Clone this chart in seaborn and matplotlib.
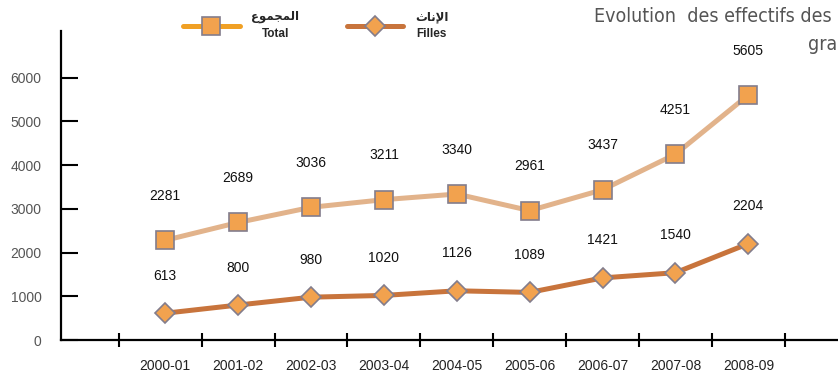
import matplotlib
matplotlib.use('Agg')
import matplotlib.pyplot as plt
import seaborn as sns
import pandas as pd
from matplotlib.lines import Line2D

# data
years = ['2000-01', '2001-02', '2002-03', '2003-04', '2004-05',
         '2005-06', '2006-07', '2007-08', '2008-09']
total = [2281, 2689, 3036, 3211, 3340, 2961, 3437, 4251, 5605]
filles = [613, 800, 980, 1020, 1126, 1089, 1421, 1540, 2204]
yticks = [0, 1000, 2000, 3000, 4000, 5000, 6000]

# arabic legend labels (presentation forms, visual order)
ar_total = '\ufec9\ufeee\ufee4\ufea0\ufee4\ufedf\ufe8d'   # المجموع
ar_filles = '\ufe99\ufe8e\ufee7\ufef9\ufe8d'              # الإناث

sns.set_style('white')
plt.rcParams['font.family'] = ['Liberation Sans', 'DejaVu Sans']

df = pd.DataFrame({'idx': range(len(years)), 'annee': years,
                   'total': total, 'filles': filles})

fig = plt.figure(figsize=(8.38, 3.73), dpi=100)
ax = fig.add_axes([61 / 838, 33 / 373, 1 - 61 / 838, 309 / 373])

mk = dict(mfc='#f2a24e', mec='#837d8c', mew=1.2)
sns.lineplot(data=df, x='idx', y='total', ax=ax, color='#e2b38b', lw=3.6,
             marker='s', ms=13, sort=False, **mk)
sns.lineplot(data=df, x='idx', y='filles', ax=ax, color='#c8743c', lw=3.6,
             marker='D', ms=10, sort=False, **mk)

for i, v in enumerate(total):
    ax.annotate(str(v), (i, v), xytext=(0, 32), textcoords='offset points',
                ha='center', va='center', fontsize=10, color='#111')
for i, v in enumerate(filles):
    ax.annotate(str(v), (i, v), xytext=(0, 27), textcoords='offset points',
                ha='center', va='center', fontsize=10, color='#111')

ax.set_xlim(-1.43, 9.23)
ax.set_ylim(0, 7070)
ax.set_xlabel('')
ax.set_ylabel('')

ax.set_yticks(yticks)
ax.tick_params(axis='y', left=True, direction='in', length=12, width=1.5,
               pad=14, labelsize=10, labelcolor='#555555', color='black')

# boundary marks between years, labels centred on the years
ax.set_xticks([-0.63] + [i + 0.5 for i in range(len(years))])
ax.tick_params(axis='x', which='major', bottom=True, direction='inout',
               length=10, width=1.5, labelbottom=False, color='black')
ax.set_xticks(range(len(years)), minor=True)
ax.set_xticklabels(years, minor=True)
ax.tick_params(axis='x', which='minor', bottom=True, length=0, pad=14,
               labelsize=10, labelcolor='#222222')

sns.despine(ax=ax)
for s in ['left', 'bottom']:
    ax.spines[s].set_linewidth(1.6)
    ax.spines[s].set_color('black')

handles = [
    Line2D([], [], color='#f0a024', lw=3.6, marker='s', ms=13, **mk),
    Line2D([], [], color='#c8743c', lw=3.6, marker='D', ms=10, **mk),
]
labels = [ar_total + '\nTotal', ar_filles + '\nFilles']
leg = fig.legend(handles, labels, loc='upper left',
                 bbox_to_anchor=(183 / 838, 1 - 11 / 373), ncol=2,
                 frameon=False, handlelength=4.8, handletextpad=1.0,
                 columnspacing=4.0, borderpad=0, borderaxespad=0,
                 prop={'size': 8.5, 'weight': 'bold'})
for t in leg.get_texts():
    t.set_multialignment('center')
    t.set_linespacing(1.5)

fig.text(594 / 838, 1 - 17 / 373, 'Evolution  des effectifs des élèves',
         ha='left', va='center', fontsize=14, color='#555555',
         family='DejaVu Sans', fontstretch='condensed')
fig.text(808 / 838, 1 - 45 / 373, 'graphique', ha='left', va='center',
         fontsize=14, color='#555555', family='DejaVu Sans',
         fontstretch='condensed')

fig.savefig('out.png', dpi=100)
